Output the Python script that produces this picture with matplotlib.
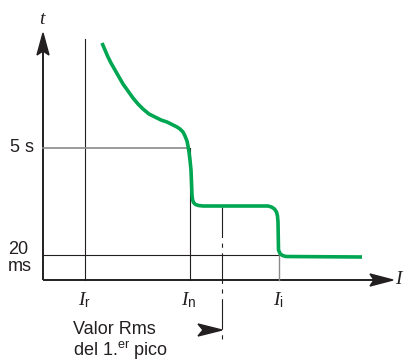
import matplotlib.pyplot as plt
from matplotlib.patches import Polygon

plt.rcParams['font.family'] = ['Liberation Sans', 'DejaVu Sans']
plt.rcParams['mathtext.fontset'] = 'custom'
plt.rcParams['mathtext.rm'] = 'Liberation Sans'
plt.rcParams['mathtext.it'] = 'Liberation Serif:italic'
plt.rcParams['lines.scale_dashes'] = False

# schematic coordinates (canvas units, y grows downward)
x_axis_y = 280
y_axis_x = 43

# tripping curve
curve_x = [102, 105, 108, 111, 115, 119, 123, 128, 133, 138, 143, 149, 155, 161,
           167, 173, 177, 180, 183, 185, 187, 188, 189, 190, 191, 191.5, 192,
           192.5, 193.5, 195.5, 198.5, 203,
           268, 271.5, 274.5, 276.5, 277.5, 278, 278.5, 280, 282.5, 286, 362]
curve_y = [43, 50, 57, 63, 70, 77, 84, 91, 98, 104, 109, 114, 117, 120,
           122, 125, 127, 129, 132, 136, 141, 146, 152, 160, 170, 182, 195,
           199.5, 202.5, 204.5, 205.5, 206,
           206, 207, 209, 212, 216, 222, 250, 253.5, 255.5, 256.5, 257]

# reference levels / currents
t_levels = [148, 255]          # 5 s, 20 ms
t_labels = ['5 s', '20\nms']
i_pos = [85, 190, 279]         # Ir, In, Ii
i_labels = [r'$I_\mathrm{r}$', r'$I_\mathrm{n}$', r'$I_\mathrm{i}$']
peak_x = 222

fig = plt.figure(figsize=(4.05, 3.6), dpi=100)
ax = fig.add_axes([0, 0, 1, 1])
ax.set_xlim(0, 405)
ax.set_ylim(360, 0)
ax.axis('off')

dark = '#231f20'
grey = '#8a8a8a'

# axes
ax.plot([y_axis_x, y_axis_x], [x_axis_y, 50], color=dark, lw=1.4, solid_capstyle='butt')
ax.plot([y_axis_x, 375], [x_axis_y, x_axis_y], color=dark, lw=1.4, solid_capstyle='butt')
ax.add_patch(Polygon([[y_axis_x, 33], [y_axis_x - 6, 55], [y_axis_x, 51], [y_axis_x + 6, 55]],
                     closed=True, color=dark))
ax.add_patch(Polygon([[393, x_axis_y], [370, x_axis_y - 6], [374, x_axis_y], [370, x_axis_y + 6]],
                     closed=True, color=dark))

# guide lines
ax.plot([i_pos[0], i_pos[0]], [39, x_axis_y], color=dark, lw=0.8)
ax.plot([y_axis_x, 188], [t_levels[0], t_levels[0]], color=grey, lw=1.2)
ax.plot([i_pos[1], i_pos[1]], [t_levels[0], x_axis_y], color=dark, lw=0.8)
ax.plot([y_axis_x, i_pos[2]], [t_levels[1], t_levels[1]], color=dark, lw=0.8)
ax.plot([i_pos[2], i_pos[2]], [t_levels[1], x_axis_y], color=grey, lw=1.0)
ax.plot([peak_x, peak_x], [207, 340], color=dark, lw=0.8,
        dashes=[22, 4, 3, 4])

# curve
ax.plot(curve_x, curve_y, color='#00a651', lw=2.6,
        solid_joinstyle='round', solid_capstyle='butt')

# arrow to peak line
ax.add_patch(Polygon([[peak_x, 330], [198, 324], [203, 330], [198, 336]],
                     closed=True, color=dark))

# labels
ax.text(y_axis_x, 20, r'$t$', fontsize=14, ha='center', va='center', color=dark)
ax.text(400, x_axis_y, r'$I$', fontsize=14, ha='center', va='center', color=dark)
ax.text(34, t_levels[0], t_labels[0], fontsize=13, ha='right', va='center', color=dark)
ax.text(8, 258, t_labels[1], fontsize=13, ha='left', va='center', color=dark,
        linespacing=1.0)
for x, lab in zip(i_pos, i_labels):
    ax.text(x - 1, 300, lab, fontsize=14, ha='center', va='center', color=dark)
ax.text(73, 329, 'Valor Rms', fontsize=13, ha='left', va='center', color=dark)
ax.text(73, 350, r'del 1.$^{\mathrm{er}}$ pico', fontsize=13, ha='left', va='center', color=dark)

fig.savefig('out.png', dpi=100)
